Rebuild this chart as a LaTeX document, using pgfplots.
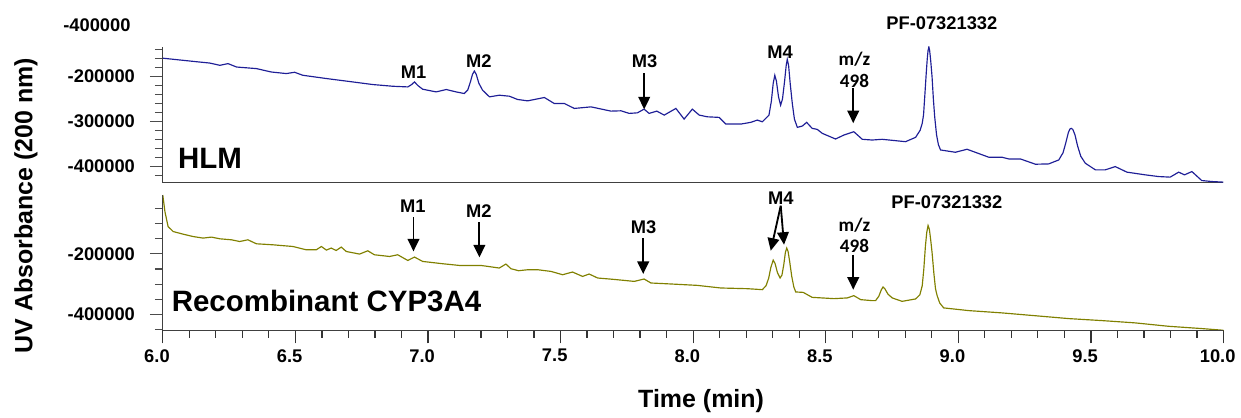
\documentclass[border=0pt]{standalone}
\usepackage{fontspec}
\setmainfont{Liberation Sans}
\newfontfamily\calib{Carlito}
\usepackage{pgfplots}
\pgfplotsset{compat=1.18}
\usetikzlibrary{arrows.meta}
\definecolor{hlmblue}{RGB}{30,30,150}
\definecolor{cypolive}{RGB}{128,128,0}
\pgfplotsset{chrom/.style={scale only axis, width=637.2pt, xmin=6, xmax=10,
  axis x line*=bottom, axis y line*=left,
  axis line style={-, draw=black!75, line width=0.7pt},
  x tick style={black!80, line width=0.75pt},
  y tick style={black!70, line width=0.7pt},
  tick align=outside,
  major tick length=7.8pt, minor tick length=4.8pt,
  scaled y ticks=false,
  yticklabel style={xshift=-5.4pt},
  xticklabel style={xshift=-3.5pt},
  every tick label/.append style={font=\fontsize{11}{13}\selectfont\bfseries}}}
\newcommand{\lab}{\fontsize{11}{13}\selectfont\bfseries}
\newcommand{\mz}{\calib\fontsize{11.5}{13}\selectfont\bfseries}
\tikzset{ann/.style={-{Triangle[length=7.5pt,width=7pt]}, line width=1.1pt, black}}
\begin{document}
\begin{tikzpicture}
% ---------- CYP3A4 (at the origin) ----------
\begin{axis}[chrom, height=81.5pt,
  ymin=-452000, ymax=-6000,
  ytick={-400000,-200000}, yticklabels={-400000,-200000},
  minor ytick={-450000,-350000,-300000,-250000,-150000,-100000,-50000},
  xtick={6,6.5,7,7.5,8,8.5,9,9.5,10},
  xticklabels={6.0,6.5,7.0,7.5,8.0,8.5,9.0,9.5,10.0}]
\addplot[cypolive, line width=0.7pt] table {
6.000 -6600
6.008 -61300
6.020 -110500
6.039 -126900
6.076 -135400
6.114 -143300
6.152 -148500
6.183 -145200
6.215 -150800
6.259 -154100
6.290 -159700
6.321 -154100
6.353 -167200
6.415 -170500
6.491 -176100
6.541 -186900
6.579 -186900
6.598 -176100
6.617 -187900
6.635 -181300
6.654 -189200
6.673 -178000
6.692 -192500
6.742 -201000
6.773 -190200
6.798 -203300
6.855 -208900
6.886 -203300
6.924 -222000
6.949 -210800
6.980 -225200
7.056 -232800
7.119 -238400
7.200 -238400
7.269 -246900
7.294 -233800
7.313 -249200
7.342 -255700
7.376 -252500
7.414 -252500
7.464 -258000
7.508 -268900
7.545 -260000
7.583 -274400
7.608 -266600
7.640 -279700
7.702 -284300
7.778 -290800
7.815 -283000
7.841 -296100
7.916 -299300
8.016 -303900
8.104 -312500
8.205 -314800
8.261 -318000
8.275 -305000
8.285 -280000
8.293 -245000
8.302 -221000
8.309 -232000
8.318 -262000
8.328 -279700
8.335 -270000
8.342 -235000
8.348 -195000
8.353 -181300
8.358 -192000
8.364 -225000
8.372 -275000
8.380 -310000
8.387 -325600
8.415 -326900
8.449 -343300
8.531 -347500
8.581 -345200
8.606 -337700
8.632 -350800
8.675 -354100
8.688 -354100
8.700 -340000
8.710 -318000
8.716 -309200
8.723 -315000
8.735 -333000
8.751 -345200
8.788 -356400
8.839 -348500
8.855 -335000
8.864 -305000
8.870 -250000
8.876 -175000
8.881 -130000
8.886 -107200
8.891 -120000
8.896 -155000
8.901 -195000
8.908 -265000
8.914 -315000
8.920 -337000
8.930 -362000
8.945 -378000
9.040 -386900
9.165 -394400
9.316 -405600
9.416 -413100
9.542 -419700
9.667 -427200
9.793 -438400
9.918 -445900
10.000 -451500
};
\end{axis}
% ---------- x tick marks: 0.1 (medium) and 0.02 (small), same place ----------
\begin{axis}[scale only axis, width=637.2pt, height=81.5pt,
  xmin=6, xmax=10, ymin=0, ymax=1,
  axis x line*=bottom, axis y line=none,
  axis line style={-, draw=black!75, line width=0.7pt},
  tick align=outside, major tick length=4.5pt, minor tick length=2.2pt,
  x tick style={black!80, line width=0.75pt},
  xtick={6.1,6.2,6.3,6.4,6.6,6.7,6.8,6.9,7.1,7.2,7.3,7.4,7.6,7.7,7.8,7.9,8.1,8.2,8.3,8.4,8.6,8.7,8.8,8.9,9.1,9.2,9.3,9.4,9.6,9.7,9.8,9.9},
  xticklabels={},
  minor x tick num=4]
\end{axis}
% ---------- HLM ----------
\begin{axis}[chrom, at={(0pt,88.7pt)}, anchor=south west, height=81.84pt,
  ymin=-437000, ymax=-133000, xtick=\empty,
  ytick={-400000,-300000,-200000}, yticklabels={-400000,-300000,-200000},
  minor ytick={-420000,-400000,-380000,-360000,-340000,-320000,-300000,-280000,-260000,-240000,-220000,-200000,-180000,-160000,-140000}]
\addplot[hlmblue, line width=0.7pt] table {
6.000 -159000
6.139 -167600
6.177 -169800
6.215 -174900
6.246 -171100
6.278 -178700
6.353 -182200
6.409 -189800
6.466 -193300
6.497 -190400
6.528 -197100
6.617 -204400
6.717 -212000
6.792 -217800
6.867 -221600
6.924 -223100
6.938 -218000
6.949 -212000
6.962 -220000
6.980 -228200
7.031 -234200
7.069 -228900
7.106 -234200
7.137 -237800
7.150 -230000
7.160 -212000
7.168 -195000
7.175 -187600
7.182 -195000
7.192 -215000
7.206 -230400
7.232 -245300
7.269 -241600
7.307 -243800
7.338 -251100
7.376 -254200
7.439 -246700
7.476 -260000
7.514 -260000
7.552 -271100
7.615 -267600
7.690 -277100
7.728 -276400
7.759 -282200
7.790 -280900
7.815 -272700
7.834 -282200
7.863 -277100
7.891 -286000
7.935 -271100
7.966 -294900
7.997 -272700
8.023 -286000
8.054 -289800
8.098 -291100
8.123 -306000
8.180 -306000
8.217 -302200
8.242 -297100
8.261 -300900
8.286 -286000
8.295 -255000
8.302 -215000
8.308 -197100
8.314 -210000
8.322 -245000
8.330 -263800
8.337 -250000
8.345 -210000
8.351 -175000
8.355 -161600
8.360 -175000
8.366 -215000
8.374 -260000
8.382 -295000
8.393 -313300
8.412 -310400
8.428 -302200
8.449 -315600
8.468 -317800
8.487 -326700
8.537 -339300
8.569 -330400
8.606 -323100
8.638 -340000
8.675 -341600
8.713 -340000
8.801 -345300
8.839 -335600
8.856 -320000
8.864 -304400
8.869 -285000
8.874 -240000
8.879 -193300
8.883 -160000
8.886 -142000
8.889 -134200
8.892 -142000
8.896 -165000
8.901 -200000
8.906 -250000
8.911 -290000
8.918 -330000
8.925 -352000
8.933 -363800
8.989 -368900
9.033 -362200
9.115 -380000
9.165 -380000
9.190 -383800
9.234 -383800
9.291 -395600
9.341 -394900
9.379 -386000
9.395 -370000
9.405 -348900
9.415 -325000
9.421 -317000
9.426 -315600
9.432 -318000
9.440 -330000
9.450 -355000
9.462 -378000
9.479 -393300
9.517 -408200
9.554 -408200
9.592 -400900
9.636 -413300
9.705 -419300
9.755 -423100
9.799 -424400
9.831 -413300
9.853 -419300
9.881 -412000
9.918 -432000
9.956 -434200
10.000 -435600
};
\end{axis}
% ---------- annotations (pixel coordinates; bottom axis corner = pixel (163,330.8)) ----------
\begin{scope}[shift={(-97.8pt,198.5pt)}, x=0.6pt, y=-0.6pt]
\path[use as bounding box] (0,0) rectangle (1241,418);
\node[rotate=90, font=\fontsize{15}{17}\selectfont\bfseries] at (26,206) {UV Absorbance (200 nm)};
\node[font=\fontsize{15}{17}\selectfont\bfseries] at (702,402) {Time (min)};
\node[anchor=east, inner sep=0pt, font=\lab] at (131,25) {-400000};
\node[anchor=base west, inner sep=0pt, font=\fontsize{17.7}{20}\selectfont\bfseries] at (178,168.3) {HLM};
\node[anchor=base west, inner sep=0pt, font=\fontsize{17.7}{20}\selectfont\bfseries] at (171.7,311.7) {Recombinant CYP3A4};
% top
\node[inner sep=0pt, font=\lab] at (414,72.5) {M1};
\node[inner sep=0pt, font=\lab] at (479.5,61) {M2};
\node[inner sep=0pt, font=\lab] at (645.5,61.5) {M3};
\draw[ann] (645,73.3) -- (645,109.5);
\node[inner sep=0pt, font=\lab] at (781,52.5) {M4};
\node[inner sep=0pt, font=\mz] at (855.5,59.5) {m/z};
\node[inner sep=0pt, font=\mz] at (855.5,81) {498};
\draw[ann] (854.3,88.3) -- (854.3,123.3);
\node[inner sep=0pt, font=\lab] at (943,23.3) {PF-07321332};
% bottom
\node[inner sep=0pt, font=\lab] at (413.3,206) {M1};
\draw[ann] (414,217.3) -- (414,251.7);
\node[inner sep=0pt, font=\lab] at (479.5,211) {M2};
\draw[ann] (480,222.3) -- (480,257.7);
\node[inner sep=0pt, font=\lab] at (644.5,227) {M3};
\draw[ann] (644,238.3) -- (644,274.3);
\node[inner sep=0pt, font=\lab] at (781.7,198.3) {M4};
\draw[ann] (781.7,206) -- (771.7,251);
\draw[ann] (781.7,206) -- (785,245);
\node[inner sep=0pt, font=\mz] at (855.5,225) {m/z};
\node[inner sep=0pt, font=\mz] at (855.5,246.7) {498};
\draw[ann] (854.3,255) -- (854.3,290);
\node[inner sep=0pt, font=\lab] at (948,202.5) {PF-07321332};
\end{scope}
\end{tikzpicture}
\end{document}
